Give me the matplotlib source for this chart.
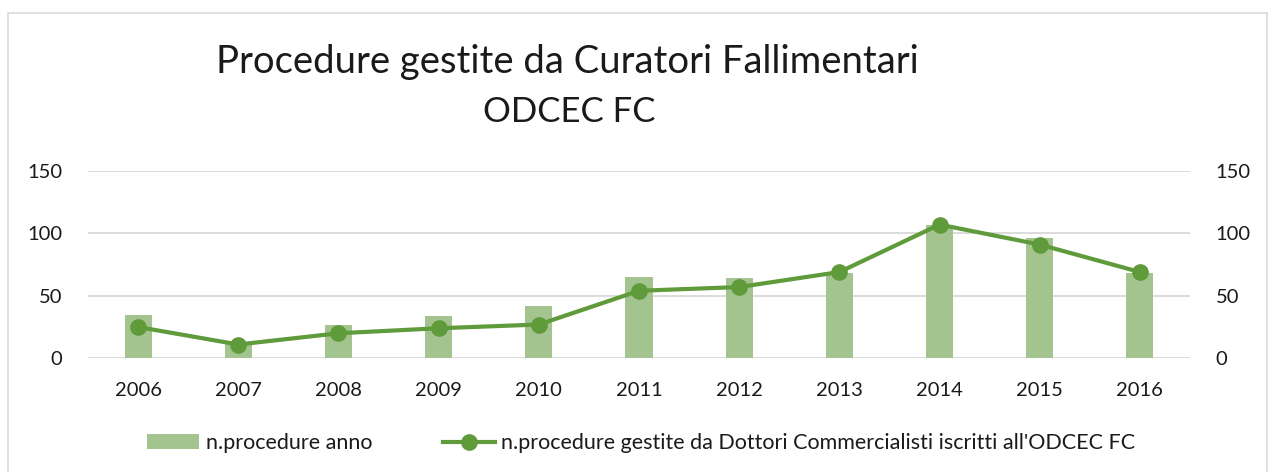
import matplotlib
matplotlib.use("Agg")
import matplotlib.pyplot as plt
from matplotlib.lines import Line2D
from matplotlib.patches import Patch, Rectangle

plt.rcParams['font.family'] = ['Lato', 'DejaVu Sans']

years = ['2006', '2007', '2008', '2009', '2010', '2011', '2012', '2013', '2014', '2015', '2016']
procedure_anno = [35, 12, 27, 34, 42, 65, 64, 68, 107, 96, 68]
procedure_odcec = [25, 11, 20, 24, 27, 54, 57, 69, 107, 91, 69]
yticks = [0, 50, 100, 150]

bar_color = '#a3c48f'
line_color = '#5f9a3b'
grid_color = '#d9d9d9'
text_color = '#1a1a1a'

fig = plt.figure(figsize=(12.7, 4.72), dpi=100)
ax = fig.add_axes([0.0693, 0.241, 0.8677, 0.397])
x = list(range(len(years)))
ax.bar(x, procedure_anno, width=0.27, color=bar_color, zorder=2)
ax.set_ylim(0, 150)
ax.set_xlim(-0.5, len(years) - 0.5)
ax.set_yticks(yticks)
ax.set_xticks(x)
ax.set_xticklabels(years)
ax.grid(axis='y', color=grid_color, linewidth=1.3, zorder=0)
for s in ax.spines.values():
    s.set_visible(False)
ax.tick_params(axis='both', length=0, labelsize=14.5, colors=text_color)
ax.tick_params(axis='x', pad=17)
ax.tick_params(axis='y', pad=18.5)

ax2 = ax.twinx()
ax2.plot(x, procedure_odcec, color=line_color, linewidth=3, marker='o', markersize=11, zorder=3)
ax2.set_ylim(0, 150)
ax2.set_yticks(yticks)
for s in ax2.spines.values():
    s.set_visible(False)
ax2.tick_params(axis='y', length=0, labelsize=14.5, colors=text_color, pad=18.5)

fig.text(0.447, 0.845, 'Procedure gestite da Curatori Fallimentari', ha='center', va='baseline',
         fontsize=27.5, color=text_color)
fig.text(0.448, 0.741, 'ODCEC FC', ha='center', va='baseline', fontsize=25, color=text_color)

handles = [Patch(facecolor=bar_color, edgecolor='none'),
           Line2D([0], [0], color=line_color, linewidth=3, marker='o', markersize=11)]
labels = ['n.procedure anno', "n.procedure gestite da Dottori Commercialisti iscritti all'ODCEC FC"]
fig.legend(handles, labels, loc='center', bbox_to_anchor=(0.505, 0.061), ncol=2, frameon=False,
           fontsize=15.5, handlelength=2.4, handletextpad=0.3, columnspacing=3.3,
           labelcolor=text_color)

fig.patches.append(Rectangle((0.0063, -0.01), 0.9913, 0.9825, transform=fig.transFigure,
                             fill=False, edgecolor='#d9d9d9', linewidth=1.2))

fig.savefig('out.png', dpi=100)
